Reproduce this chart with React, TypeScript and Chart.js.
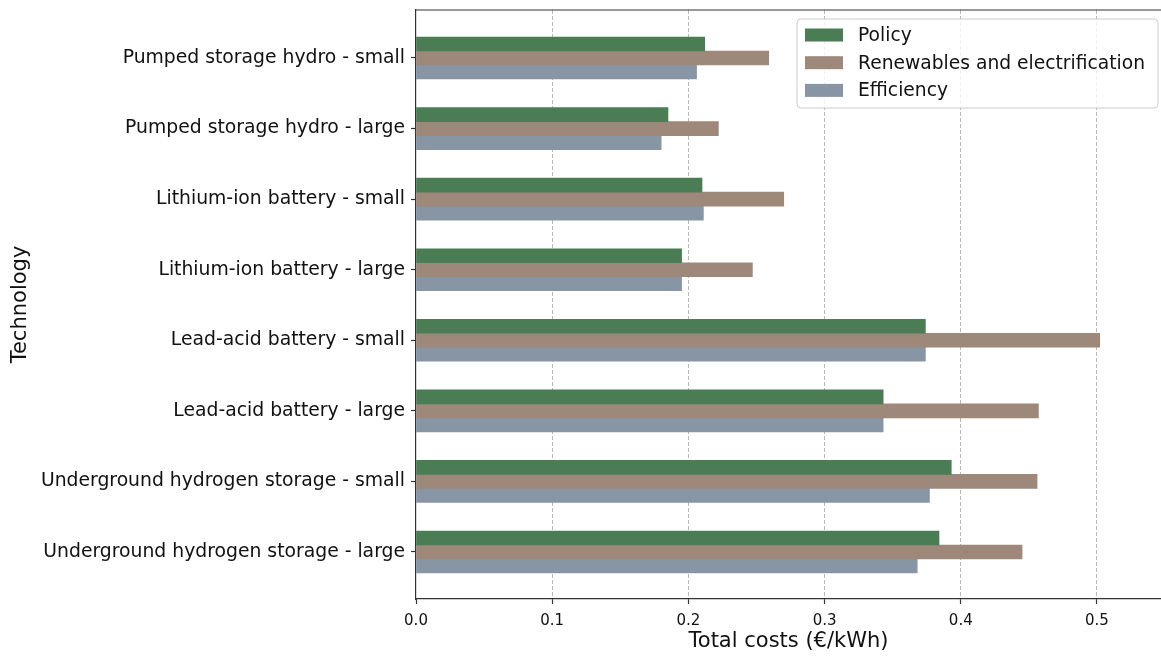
import React, { useEffect, useRef } from "react";
import { Chart, registerables } from "chart.js";

Chart.register(...registerables);

const categories = [
  "Pumped storage hydro - small",
  "Pumped storage hydro - large",
  "Lithium-ion battery - small",
  "Lithium-ion battery - large",
  "Lead-acid battery - small",
  "Lead-acid battery - large",
  "Underground hydrogen storage - small",
  "Underground hydrogen storage - large",
];
const policy = [0.212, 0.185, 0.210, 0.195, 0.374, 0.343, 0.393, 0.384];
const renewables = [0.259, 0.222, 0.270, 0.247, 0.502, 0.457, 0.456, 0.445];
const efficiency = [0.206, 0.180, 0.211, 0.195, 0.374, 0.343, 0.377, 0.368];
const seriesNames = ["Policy", "Renewables and electrification", "Efficiency"];
const seriesColors = ["#4a7d54", "#9e8879", "#8895a5"];
const xTicks = [0, 0.1, 0.2, 0.3, 0.4, 0.5];

const FONT = "'DejaVu Sans', 'Noto Sans', sans-serif";
const AXIS = "#333333";

const topSpineAndLegend = {
  id: "topSpineAndLegend",
  afterDraw(chart: any) {
    const ctx = chart.ctx;
    const a = chart.chartArea;
    ctx.save();
    // top spine
    ctx.strokeStyle = AXIS;
    ctx.lineWidth = 1.2;
    ctx.beginPath();
    ctx.moveTo(a.left, a.top);
    ctx.lineTo(a.right, a.top);
    ctx.stroke();

    // legend
    const w = 361;
    const h = 89;
    const x = a.right - 3 - w;
    const y = a.top + 9;
    const r = 4;
    ctx.beginPath();
    ctx.moveTo(x + r, y);
    ctx.lineTo(x + w - r, y);
    ctx.arcTo(x + w, y, x + w, y + r, r);
    ctx.lineTo(x + w, y + h - r);
    ctx.arcTo(x + w, y + h, x + w - r, y + h, r);
    ctx.lineTo(x + r, y + h);
    ctx.arcTo(x, y + h, x, y + h - r, r);
    ctx.lineTo(x, y + r);
    ctx.arcTo(x, y, x + r, y, r);
    ctx.closePath();
    ctx.fillStyle = "rgba(255,255,255,0.8)";
    ctx.fill();
    ctx.strokeStyle = "#cccccc";
    ctx.lineWidth = 1;
    ctx.stroke();

    ctx.font = "18.7px " + FONT;
    ctx.textBaseline = "middle";
    ctx.textAlign = "left";
    chart.data.datasets.forEach((ds: any, i: number) => {
      const cy = y + 16 + i * 27.7;
      ctx.fillStyle = ds.backgroundColor;
      ctx.fillRect(x + 8, cy - 6.5, 38, 13);
      ctx.fillStyle = "#111111";
      ctx.fillText(ds.label, x + 61, cy + 1);
    });
    ctx.restore();
  },
};

export default function App() {
  const ref = useRef<HTMLCanvasElement | null>(null);

  useEffect(() => {
    if (!ref.current) return;
    const series = [policy, renewables, efficiency];
    const chart = new Chart(ref.current, {
      type: "bar",
      data: {
        datasets: series.map((vals, s) => ({
          label: seriesNames[s],
          data: vals.map((v, i) => ({ x: v, y: i })),
          backgroundColor: seriesColors[s],
          borderWidth: 0,
          barThickness: 14,
        })),
      },
      options: {
        indexAxis: "y",
        animation: false,
        responsive: true,
        maintainAspectRatio: false,
        layout: { padding: { top: 10, right: 0, bottom: 0, left: 0 } },
        plugins: {
          legend: { display: false },
          title: { display: false },
          tooltip: { enabled: false },
        },
        scales: {
          x: {
            type: "linear",
            min: 0,
            max: 0.547,
            afterBuildTicks: (scale: any) => {
              scale.ticks = xTicks.map((v) => ({ value: v }));
            },
            afterFit: (scale: any) => {
              scale.height = 58;
              scale.paddingLeft = 0;
              scale.paddingRight = 0;
            },
            ticks: {
              callback: (v: any) => Number(v).toFixed(1),
              font: { family: FONT, size: 15 },
              color: "#111111",
              padding: 8,
              maxRotation: 0,
              autoSkip: false,
            },
            grid: {
              display: true,
              drawOnChartArea: true,
              drawTicks: true,
              tickLength: 5,
              tickColor: AXIS,
              tickWidth: 1.2,
              lineWidth: 1,
              color: (c: any) =>
                c.tick && c.tick.value === 0 ? "rgba(0,0,0,0)" : "#b8b8b8",
            },
            border: { display: true, color: AXIS, width: 1.2, dash: [4, 2] },
            title: {
              display: true,
              text: "Total costs (€/kWh)",
              font: { family: FONT, size: 21 },
              color: "#111111",
              padding: { top: 0, bottom: 3 },
            },
          },
          y: {
            type: "linear",
            reverse: true,
            offset: false,
            min: -0.68,
            max: 7.666,
            afterBuildTicks: (scale: any) => {
              scale.ticks = categories.map((_, i) => ({ value: i }));
            },
            afterFit: (scale: any) => {
              scale.width = 416;
              scale.paddingTop = 0;
              scale.paddingBottom = 0;
            },
            ticks: {
              callback: (v: any) => categories[Math.round(Number(v))],
              font: { family: FONT, size: 18.8 },
              color: "#111111",
              padding: 6,
              autoSkip: false,
            },
            grid: {
              display: true,
              offset: false,
              drawOnChartArea: false,
              drawTicks: true,
              tickLength: 5,
              tickColor: AXIS,
              tickWidth: 1.2,
            },
            border: { display: true, color: AXIS, width: 1.2 },
            title: {
              display: true,
              text: "Technology",
              font: { family: FONT, size: 21 },
              color: "#111111",
              padding: { top: 8, bottom: 0 },
            },
          },
        },
      },
      plugins: [topSpineAndLegend],
    } as any);
    return () => chart.destroy();
  }, []);

  return (
    <div
      style={{
        position: "absolute",
        left: 0,
        top: 0,
        width: 1161,
        height: 657,
        background: "#ffffff",
      }}
    >
      <canvas ref={ref} />
    </div>
  );
}
